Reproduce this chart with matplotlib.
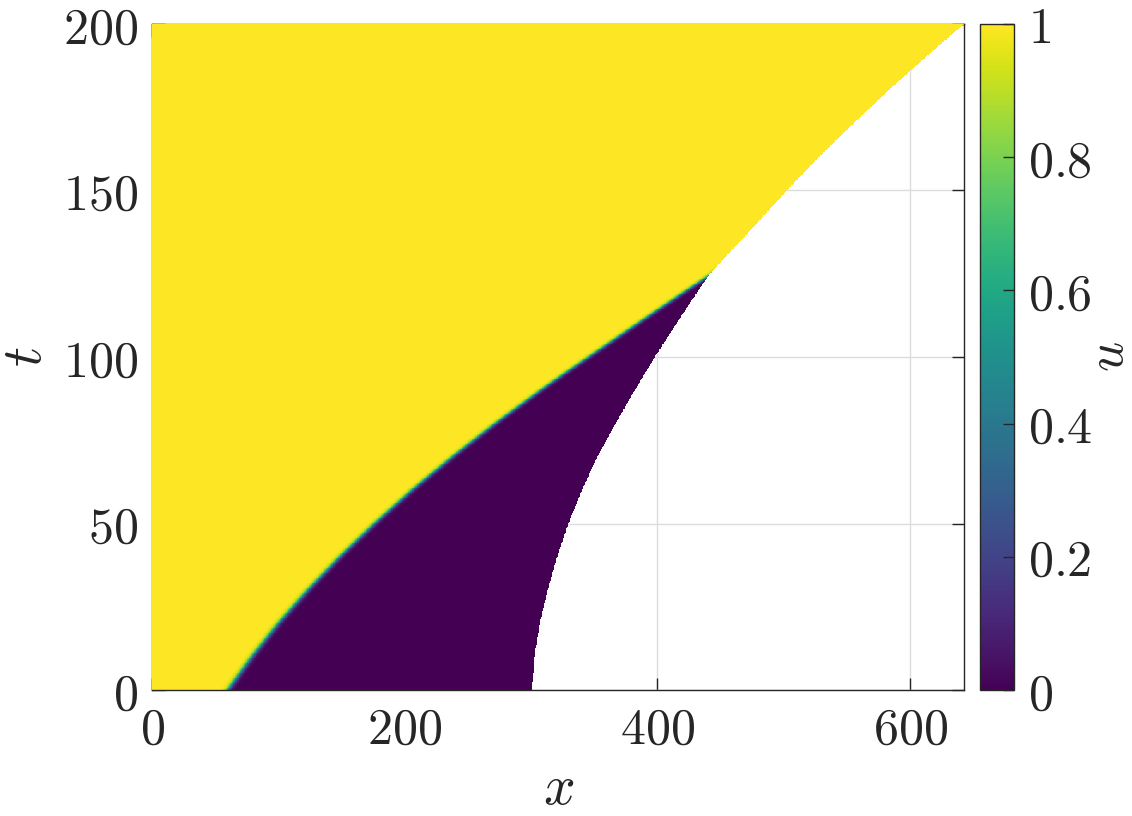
import numpy as np
import matplotlib.pyplot as plt
from matplotlib.ticker import FuncFormatter

plt.rcParams['mathtext.fontset'] = 'cm'
plt.rcParams['font.family'] = 'serif'

# front position (yellow/purple interface)
front_t = [0, 10, 20, 30, 40, 50, 60, 70, 80, 90, 95, 100, 110, 120, 124.6, 200]
front_x = [60, 79, 100, 123.3, 148.7, 176.3, 205.9, 237.7, 271.7, 307.8, 326.6,
           345.9, 384.4, 423.5, 442, 730]

# right edge of the domain (white beyond it)
bound_t = [0, 10, 20, 30, 40, 50, 60, 70, 80, 90, 100, 110, 120, 124.6, 130,
           140, 150, 160, 170, 180, 190, 200]
bound_x = [300.5, 302.5, 306.8, 313, 320.5, 329.5, 340.2, 352.3, 366.8, 382, 398,
           415, 432.5, 441, 454, 478.5, 502.5, 528, 555, 583, 612.5, 643]

front_width = 2.5
x_max = 643
t_max = 200

# build u(x, t) on a grid
xg = np.linspace(0, x_max, 1287)
tg = np.linspace(0, t_max, 801)
X, T = np.meshgrid(xg, tg)
xf = np.interp(tg, front_t, front_x)[:, None]
xb = np.interp(tg, bound_t, bound_x)[:, None]
u = 0.5 * (1 - np.tanh((X - xf) / front_width))
u = np.ma.masked_where(X > xb, u)

fig = plt.figure(figsize=(11.32, 8.16), dpi=100)
ax = fig.add_axes([0.1343, 0.1544, 0.7176, 0.8162])

cmap = plt.get_cmap('viridis').copy()
cmap.set_bad((1, 1, 1, 0))
im = ax.imshow(u, cmap=cmap, vmin=0, vmax=1, origin='lower', aspect='auto',
               extent=[0, x_max, 0, t_max], interpolation='nearest', zorder=1)

ax.set_xlim(0, x_max)
ax.set_ylim(0, t_max)
ax.set_xticks([0, 200, 400, 600])
ax.set_yticks([0, 50, 100, 150, 200])
fmt = FuncFormatter(lambda v, p: '$%g$' % v)
ax.xaxis.set_major_formatter(fmt)
ax.yaxis.set_major_formatter(fmt)
ax.set_axisbelow(True)
ax.grid(True, color='#dcdcdc', linewidth=1)
ax.tick_params(direction='in', length=9, width=1, colors='#262626',
               labelsize=36, top=True, right=True)
ax.tick_params(axis='x', pad=11)
ax.tick_params(axis='y', pad=10)
for side in ['left', 'top']:
    ax.spines[side].set_zorder(0.5)
for s in ax.spines.values():
    s.set_color('#262626')
    s.set_linewidth(1)

ax.set_xlabel('$x$', fontsize=40, labelpad=5, color='#262626')
ax.set_ylabel('$t$', fontsize=40, labelpad=7, color='#262626')

cax = fig.add_axes([0.8657, 0.1544, 0.0303, 0.8162])
cb = fig.colorbar(im, cax=cax)
cb.set_ticks([0, 0.2, 0.4, 0.6, 0.8, 1])
cb.ax.yaxis.set_major_formatter(fmt)
cb.ax.tick_params(direction='in', length=8, width=1, colors='#262626',
                  labelsize=36, pad=10)
cb.outline.set_edgecolor('#262626')
cb.outline.set_linewidth(1)
cb.set_label('$u$', fontsize=38, color='#262626', labelpad=-7)

fig.savefig('out.png', dpi=100)
